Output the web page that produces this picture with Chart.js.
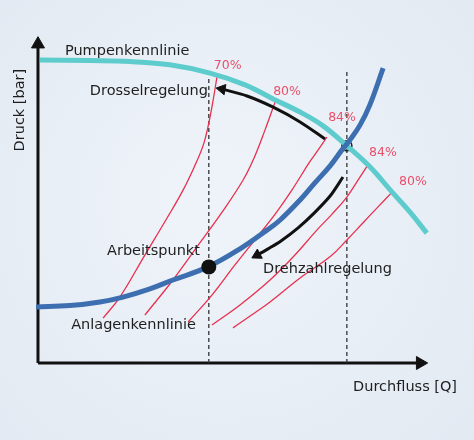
<!DOCTYPE html>
<html lang="de">
<head>
<meta charset="utf-8">
<title>Pumpenkennlinie / Anlagenkennlinie</title>
<script src="https://cdn.jsdelivr.net/npm/chart.js@4/dist/chart.umd.min.js"></script>
<style>
  html, body { margin: 0; padding: 0; background: #e9eef5; }
  #wrap { width: 474px; height: 440px; }
</style>
</head>
<body>
<div id="wrap"><canvas id="chart"></canvas></div>
<script>
// Durchfluss Q (0..10) / Druck (0..10)
const pumpCurve = [
  [0.05, 9.24], [1.33, 9.22], [2.36, 9.19], [3.38, 9.09], [4.41, 8.84],
  [5.31, 8.48], [6.03, 8.05], [6.72, 7.65], [7.31, 7.23], [7.92, 6.62],
  [8.51, 5.98], [9.08, 5.21], [9.54, 4.60], [9.97, 3.96]
];
const systemCurve = [
  [-0.05, 1.71], [0.82, 1.75], [1.59, 1.86], [2.18, 2.01], [2.87, 2.26],
  [3.46, 2.53], [4.36, 2.93], [5.18, 3.48], [5.87, 4.05], [6.21, 4.36],
  [6.72, 4.97], [7.10, 5.49], [7.49, 6.01], [7.79, 6.49], [8.00, 6.80],
  [8.26, 7.26], [8.51, 7.87], [8.85, 8.99]
];
// Wirkungsgrad-Linien (von unten nach oben)
const eff70 = [[1.67, 1.37], [2.10, 2.01], [2.74, 3.29], [3.31, 4.42], [3.72, 5.27], [4.03, 6.04], [4.24, 6.65], [4.37, 7.26], [4.47, 7.87], [4.59, 8.72]];
const eff80a = [[2.74, 1.46], [3.46, 2.53], [4.15, 3.66], [4.72, 4.60], [5.26, 5.58], [5.54, 6.25], [5.82, 7.10], [6.08, 7.96]];
const eff84a = [[3.85, 1.25], [4.46, 2.07], [5.05, 2.99], [5.62, 3.84], [6.10, 4.57], [6.51, 5.27], [6.95, 6.10], [7.18, 6.49], [7.41, 6.89]];
const eff84b = [[4.46, 1.16], [5.18, 1.77], [5.95, 2.53], [6.54, 3.23], [7.15, 4.05], [7.54, 4.54], [7.92, 5.06], [8.21, 5.58], [8.46, 6.04]];
const eff80b = [[5.00, 1.07], [5.44, 1.43], [5.95, 1.86], [6.72, 2.59], [7.51, 3.26], [7.92, 3.75], [8.33, 4.27], [8.72, 4.76], [9.08, 5.21]];
const effLabels = ['70%', '80%', '84%', '84%', '80%'];
const effLabelAt = [[4.51, 9.05], [6.03, 8.26], [7.44, 7.47], [8.49, 6.40], [9.26, 5.52]];

const throttleArrow = [[7.36, 6.83], [6.72, 7.35], [6.03, 7.80], [5.36, 8.14], [4.72, 8.35]];
const speedArrow = [[7.82, 5.67], [7.49, 5.09], [7.08, 4.57], [6.67, 4.12], [6.23, 3.72], [5.90, 3.48], [5.62, 3.29]];

const workPoint = [4.38, 2.93];
const bestPoint = [7.92, 6.62];
const guideLines = [[[4.38, 0], [4.38, 8.75]], [[7.92, 0], [7.92, 8.87]]];

const texts = [
  { text: 'Pumpenkennlinie', at: [0.69, 9.51] },
  { text: 'Drosselregelung', at: [1.33, 8.29] },
  { text: 'Arbeitspunkt', at: [1.77, 3.41] },
  { text: 'Drehzahlregelung', at: [5.77, 2.87] },
  { text: 'Anlagenkennlinie', at: [0.85, 1.16] },
  { text: 'Durchfluss [Q]', at: [8.08, -0.73] }
];
const yTitle = { text: 'Druck [bar]', at: [-0.46, 7.71] };

const FONT = '"DejaVu Sans", Verdana, sans-serif';
const RED = '#e8304f';

function pts(arr) {
  return arr.map(([x, y]) => ({ x, y }));
}

function curve(arr, color, width, order, extra) {
  return Object.assign({
    data: pts(arr),
    borderColor: color,
    borderWidth: width,
    pointRadius: 0,
    tension: 0.4,
    fill: false,
    clip: false,
    order
  }, extra || {});
}

function arrow(arr, color, width, order, rotation, size) {
  const last = arr.length - 1;
  return curve(arr, color, width, order, {
    tension: 0.3,
    pointStyle: 'triangle',
    pointRadius: arr.map((_, i) => i === last ? size : 0),
    pointRotation: rotation,
    pointBackgroundColor: color,
    pointBorderColor: color,
    pointBorderWidth: 1
  });
}

const datasets = [
  // lower order = drawn on top
  curve([workPoint], '#111', 0, 0, { pointRadius: 7.5, pointBackgroundColor: '#111', pointBorderColor: '#111', showLine: false }),
  curve(systemCurve, '#3d6eb0', 5, 1, { borderCapStyle: 'butt' }),
  curve(pumpCurve, '#5ecbcd', 5, 2),
  arrow(throttleArrow, '#111', 3, 3, -80, 6),
  arrow(speedArrow, '#111', 3, 3, -118, 6),
  curve([bestPoint], '#222', 0, 4, { pointRadius: 5, pointBackgroundColor: 'rgba(0,0,0,0)', pointBorderColor: '#222', pointBorderWidth: 1.5, showLine: false }),
  ...[eff70, eff80a, eff84a, eff84b, eff80b].map(c => curve(c, RED, 1.3, 5)),
  ...guideLines.map(g => curve(g, '#333', 1.3, 6, { borderDash: [4, 3], tension: 0 })),
  arrow([[0, 0], [0, 9.72]], '#111', 3, 7, 0, 7.5),
  arrow([[0, 0], [9.8, 0]], '#111', 3, 7, 90, 7.5)
];

const backgroundPlugin = {
  id: 'paper',
  beforeDraw(chart) {
    const { ctx, width, height } = chart;
    const g = ctx.createRadialGradient(width * 0.45, height * 0.45, 40, width * 0.5, height * 0.5, 340);
    g.addColorStop(0, '#eef3f9');
    g.addColorStop(1, '#e2e9f2');
    ctx.save();
    ctx.fillStyle = g;
    ctx.fillRect(0, 0, width, height);
    ctx.restore();
  }
};

const textPlugin = {
  id: 'texts',
  afterDatasetsDraw(chart) {
    const { ctx, scales: { x, y } } = chart;
    ctx.save();
    ctx.textBaseline = 'middle';
    ctx.textAlign = 'left';

    ctx.fillStyle = '#1e1e1e';
    ctx.font = '14.5px ' + FONT;
    texts.forEach(t => {
      ctx.fillText(t.text, x.getPixelForValue(t.at[0]), y.getPixelForValue(t.at[1]));
    });

    ctx.fillStyle = '#e8506a';
    ctx.font = '12.5px ' + FONT;
    effLabels.forEach((t, i) => {
      ctx.fillText(t, x.getPixelForValue(effLabelAt[i][0]), y.getPixelForValue(effLabelAt[i][1]));
    });

    ctx.fillStyle = '#1e1e1e';
    ctx.font = '14.5px ' + FONT;
    ctx.translate(x.getPixelForValue(yTitle.at[0]), y.getPixelForValue(yTitle.at[1]));
    ctx.rotate(-Math.PI / 2);
    ctx.textAlign = 'center';
    ctx.fillText(yTitle.text, 0, 0);
    ctx.restore();
  }
};

new Chart(document.getElementById('chart'), {
  type: 'line',
  data: { datasets },
  options: {
    responsive: true,
    maintainAspectRatio: false,
    animation: false,
    layout: { padding: 0, autoPadding: false },
    plugins: {
      legend: { display: false },
      tooltip: { enabled: false }
    },
    events: [],
    scales: {
      x: { type: 'linear', display: false, min: -0.974, max: 11.18 },
      y: { type: 'linear', display: false, min: -2.348, max: 11.067 }
    }
  },
  plugins: [backgroundPlugin, textPlugin]
});
</script>
</body>
</html>
